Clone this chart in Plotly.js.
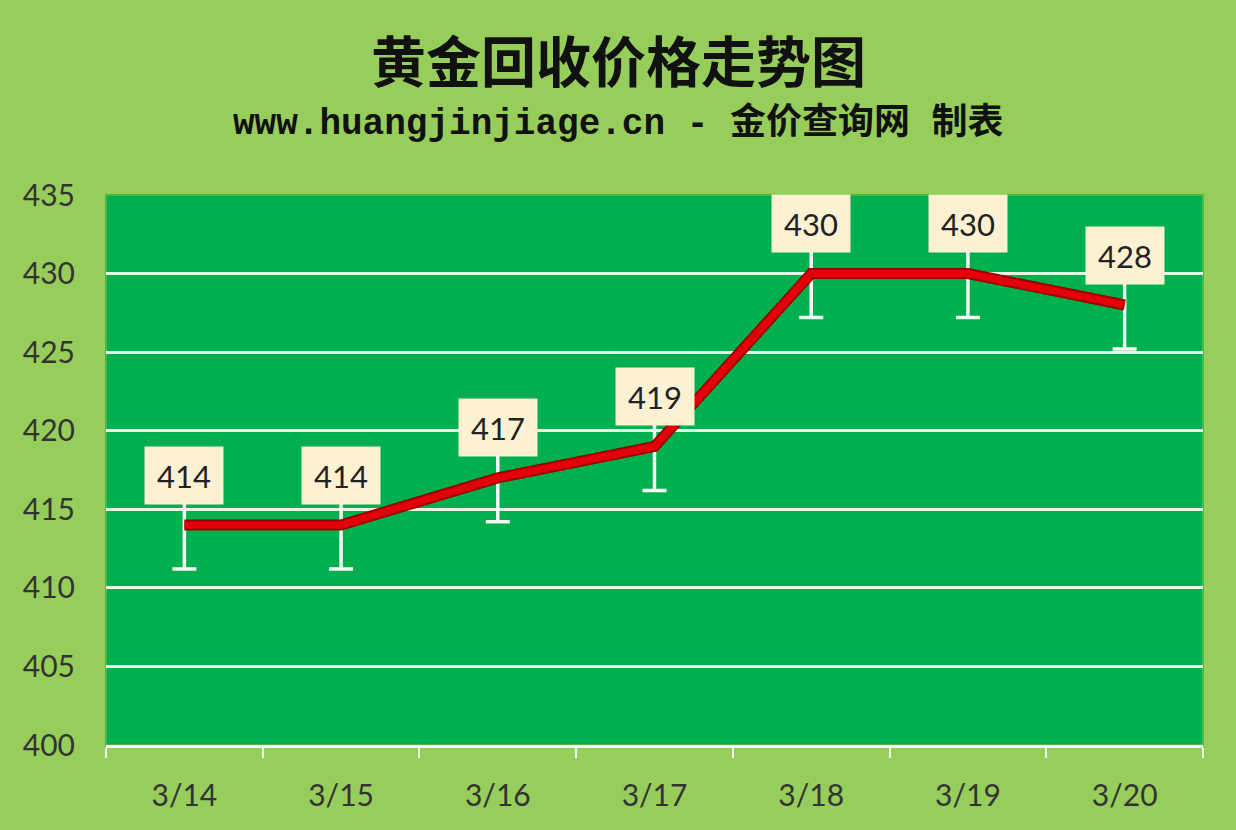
<!DOCTYPE html>
<html>
<head>
<meta charset="utf-8">
<script src="https://cdn.plot.ly/plotly-3.0.1.min.js"></script>
<style>
  html, body { margin: 0; padding: 0; background: #97CE5B; }
  #chart { width: 1236px; height: 830px; }
</style>
</head>
<body>
<div id="chart"></div>
<script>
// 黄金回收价格走势图 ----------------------------------------------------------
const dates = ['3/14', '3/15', '3/16', '3/17', '3/18', '3/19', '3/20'];
const prices = [414, 414, 417, 419, 430, 430, 428];
const errSize = 2.8;
const yTicks = [400, 405, 410, 415, 420, 425, 430, 435];
const gridTicks = [405, 410, 415, 420, 425, 430];

const labelFont = 'Lato, "Open Sans", sans-serif';
const cjkFont = '"Noto Sans CJK SC", sans-serif';

// ----- traces -----
const traces = [
    // invisible trace just to switch on the grid axis
    { type: 'scatter', mode: 'none', x: dates, y: prices, yaxis: 'y2', hoverinfo: 'skip' },
    {
        type: 'scatter', mode: 'markers', x: dates, y: prices,
        marker: { opacity: 0 },
        error_y: { type: 'constant', value: errSize, color: '#F4FBF4', thickness: 3.5, width: 12 },
        hoverinfo: 'skip',
    },
    {
        type: 'scatter', mode: 'lines', x: dates, y: prices,
        line: { color: '#9E0000', width: 11 },
        hoverinfo: 'skip',
    },
    {
        type: 'scatter', mode: 'lines', x: dates, y: prices,
        line: { color: '#E3000B', width: 7 },
        hovertemplate: '%{x}<br>%{y}<extra></extra>',
    },
];

// ----- value labels -----
const annotations = prices.map((p, i) => ({
    x: dates[i], y: p, xref: 'x', yref: 'y',
    text: String(p), showarrow: false, yshift: 50,
    bgcolor: '#FCF1D2', width: 76, height: 55,
    font: { family: labelFont, size: 31, color: '#222' },
}));

// titles, centred on the whole figure rather than the plot area
annotations.push(
    {
        xref: 'paper', yref: 'paper', x: 0.467, y: 1, yshift: 137, xanchor: 'center', yanchor: 'middle',
        text: '<b>黄金回收价格走势图</b>', showarrow: false,
        font: { family: cjkFont, size: 55, color: '#111' },
    },
    {
        xref: 'paper', yref: 'paper', x: 0.467, y: 1, yshift: 72, xanchor: 'center', yanchor: 'middle',
        text: '<b>www.huangjinjiage.cn - 金价查询网 制表</b>', showarrow: false,
        font: { family: '"Liberation Mono", "Noto Sans CJK SC", monospace', size: 36, color: '#111' },
    }
);

const layout = {
    width: 1236, height: 830,
    paper_bgcolor: '#97CE5B', plot_bgcolor: '#00AF4E',
    margin: { l: 106, r: 33, t: 195, b: 85 },
    showlegend: false,
    font: { family: labelFont, color: '#333' },
    xaxis: {
        type: 'category', range: [-0.5, 6.5], fixedrange: true,
        tickson: 'boundaries', ticks: 'outside', ticklen: 10, tickwidth: 2, tickcolor: '#F4FBF4',
        showline: true, linecolor: '#F4FBF4', linewidth: 3,
        showgrid: false, zeroline: false,
        tickfont: { family: labelFont, size: 30, color: '#333' },
        ticklabelstandoff: 22,
    },
    yaxis: {
        range: [400, 435], tickvals: yTicks, fixedrange: true,
        showgrid: false, zeroline: false, showline: false,
        ticks: '', ticklabelstandoff: 30,
        tickfont: { family: labelFont, size: 30, color: '#333' },
    },
    yaxis2: {
        overlaying: 'y', range: [400, 435], tickvals: gridTicks, fixedrange: true,
        showgrid: true, gridcolor: '#E6F5E4', gridwidth: 3,
        showticklabels: false, zeroline: false, showline: false,
    },
    shapes: [{
        type: 'rect', xref: 'paper', yref: 'paper', x0: 0, x1: 1, y0: 0, y1: 1,
        line: { color: '#4DB748', width: 2 }, layer: 'below',
    }],
    annotations,
};

Plotly.newPlot('chart', traces, layout, { displayModeBar: false, staticPlot: true });
</script>
</body>
</html>
